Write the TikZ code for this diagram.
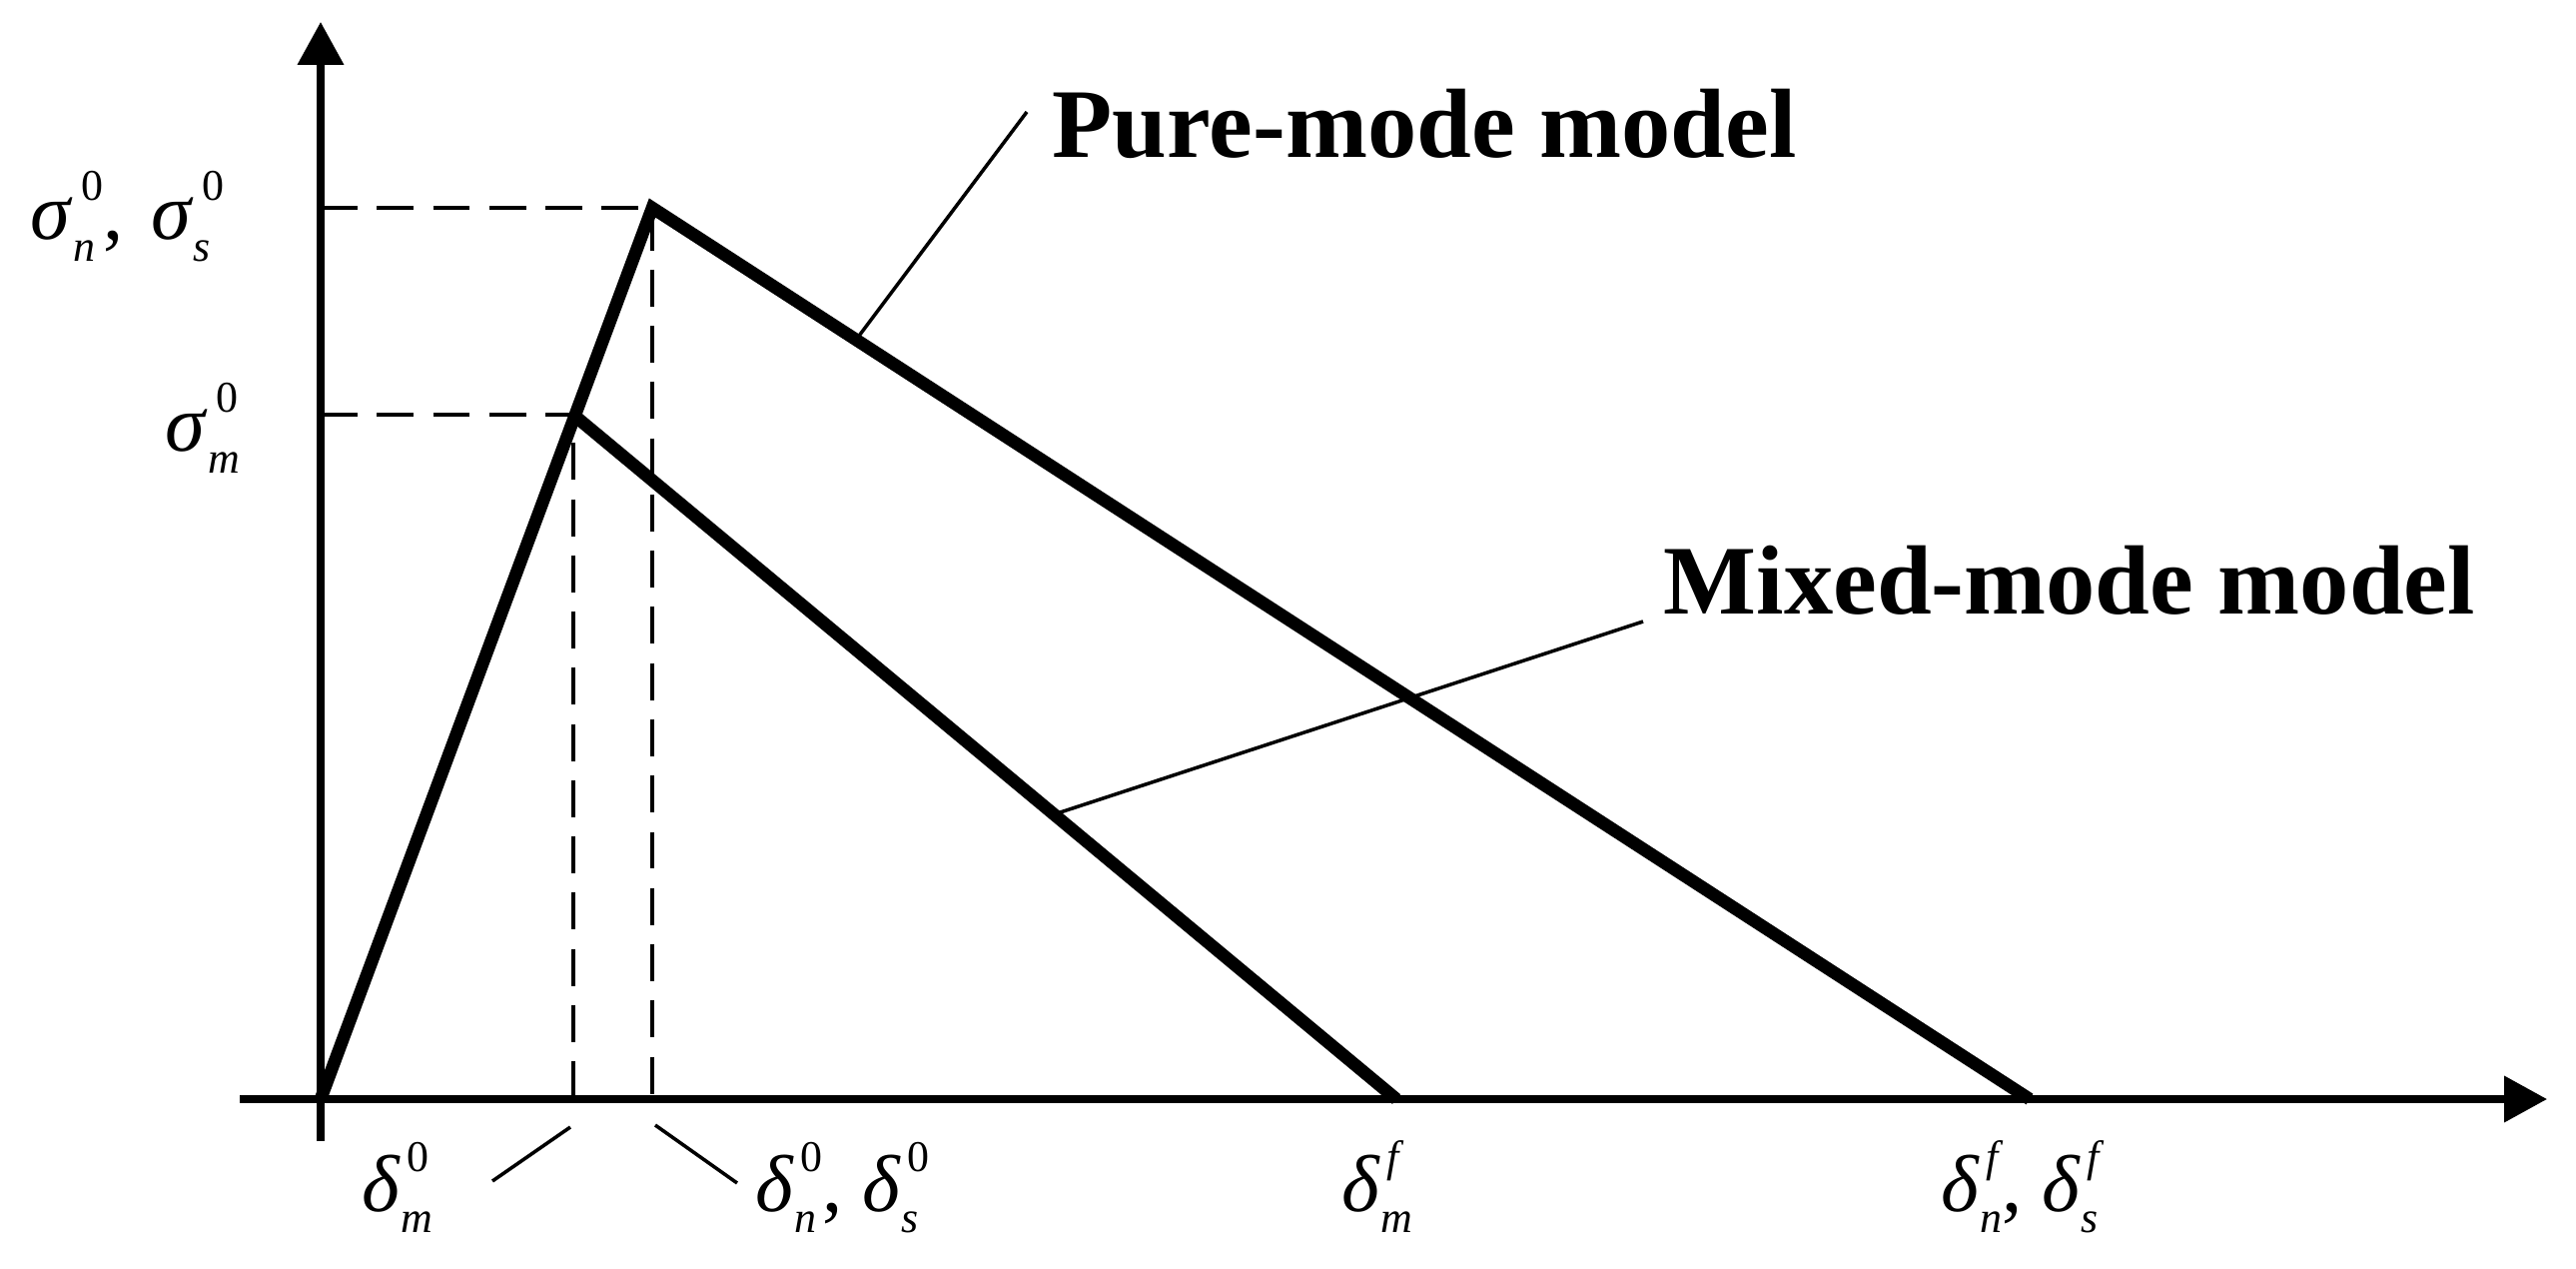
\documentclass[tikz,border=0pt]{standalone}
\usepackage{fontspec}
\setmainfont{Liberation Serif}
\usetikzlibrary{arrows.meta,calc}
\newcommand\symlbl[4]{\textit{#1}\begingroup
  \sbox0{\fontsize{12.5}{12.5}\selectfont #2}%
  \sbox2{\fontsize{12.5}{12.5}\selectfont\itshape #3}%
  \rlap{\kern#4\raisebox{0.49em}{\usebox0}}\raisebox{-0.26em}{\usebox2}%
  \dimen0=\wd0 \advance\dimen0 by #4\relax
  \ifdim\dimen0>\wd2 \kern\dimexpr\dimen0-\wd2\relax\fi
  \endgroup}
\begin{document}
\begin{tikzpicture}[x=0.01cm,y=-0.01cm,
  axis/.style={line width=2pt,-{Triangle[length=12.2pt,width=12.8pt]}},
  thickline/.style={line width=3.6pt,line join=miter},
  guide/.style={line width=1.4pt,dash pattern=on 10.5pt off 5.5pt},
  leader/.style={line width=1pt},
  mlabel/.style={inner sep=0pt,anchor=base west,font=\fontsize{23}{27}\selectfont},
  title/.style={inner sep=0pt,anchor=base west,font=\fontsize{28}{32}\selectfont\bfseries}]
\path[use as bounding box] (0,0) rectangle (2579,1270);
% key points
\coordinate (O) at (321,1100);
\coordinate (P) at (653,208);
\coordinate (M) at (574,415);
\coordinate (Mf) at (1398,1100);
\coordinate (Pf) at (2032,1100);
\coordinate (Ybot) at (321,1142);
\coordinate (Ytop) at (321,22);
\coordinate (Xl) at (240,1100);
\coordinate (Xr) at (2550,1100);
\coordinate (Py) at (321,208);
\coordinate (My) at (321,415);
\coordinate (Px) at (653,1100);
\coordinate (Mx) at (574,1100);
% axes
\draw[axis] (Ybot) -- (Ytop);
\draw[axis] (Xl) -- (Xr);
% guides
\draw[guide] (Py) -- (P) -- (Px);
\draw[guide] (My) -- (M) -- (Mx);
% model curves
\draw[thickline] (O) -- (P) -- (Pf);
\draw[thickline] (M) -- (Mf);
% titles
\node[title] (pure) at (1053,158) {Pure-mode model};
\node[title] (mixed) at (1665,614) {Mixed-mode model};
% axis labels
\node[mlabel] (sigP) at (30,240) {\symlbl{σ}{0}{n}{2.5pt},\ \kern2pt\symlbl{σ}{0}{s}{2.5pt}};
\node[mlabel] (sigM) at (165,452) {\symlbl{σ}{0}{m}{2.5pt}};
\node[mlabel] (delM0) at (362,1212) {\symlbl{δ}{0}{m}{1.7pt}};
\node[mlabel] (delP0) at (756,1212) {\symlbl{δ}{0}{n}{1.7pt}, \symlbl{δ}{0}{s}{1.7pt}};
\node[mlabel] (delMf) at (1343,1212) {\symlbl{δ}{\itshape f}{m}{1.7pt}};
\node[mlabel] (delPf) at (1943,1212) {\symlbl{δ}{\itshape f}{n}{1.7pt}, \symlbl{δ}{\itshape f}{s}{1.7pt}};
% leaders
\coordinate (pureA) at ($(P)!0.148!(Pf)$);
\coordinate (pureB) at (1028,112);
\coordinate (mixA) at ($(M)!0.584!(Mf)$);
\coordinate (mixB) at (1645,622);
\coordinate (dmA) at (571,1128);
\coordinate (dmB) at (493,1182);
\coordinate (dpA) at (656,1126);
\coordinate (dpB) at (738,1184);
\draw[leader] (pureA) -- (pureB);
\draw[leader] (mixA) -- (mixB);
\draw[leader] (dmA) -- (dmB);
\draw[leader] (dpA) -- (dpB);
\end{tikzpicture}
\end{document}
